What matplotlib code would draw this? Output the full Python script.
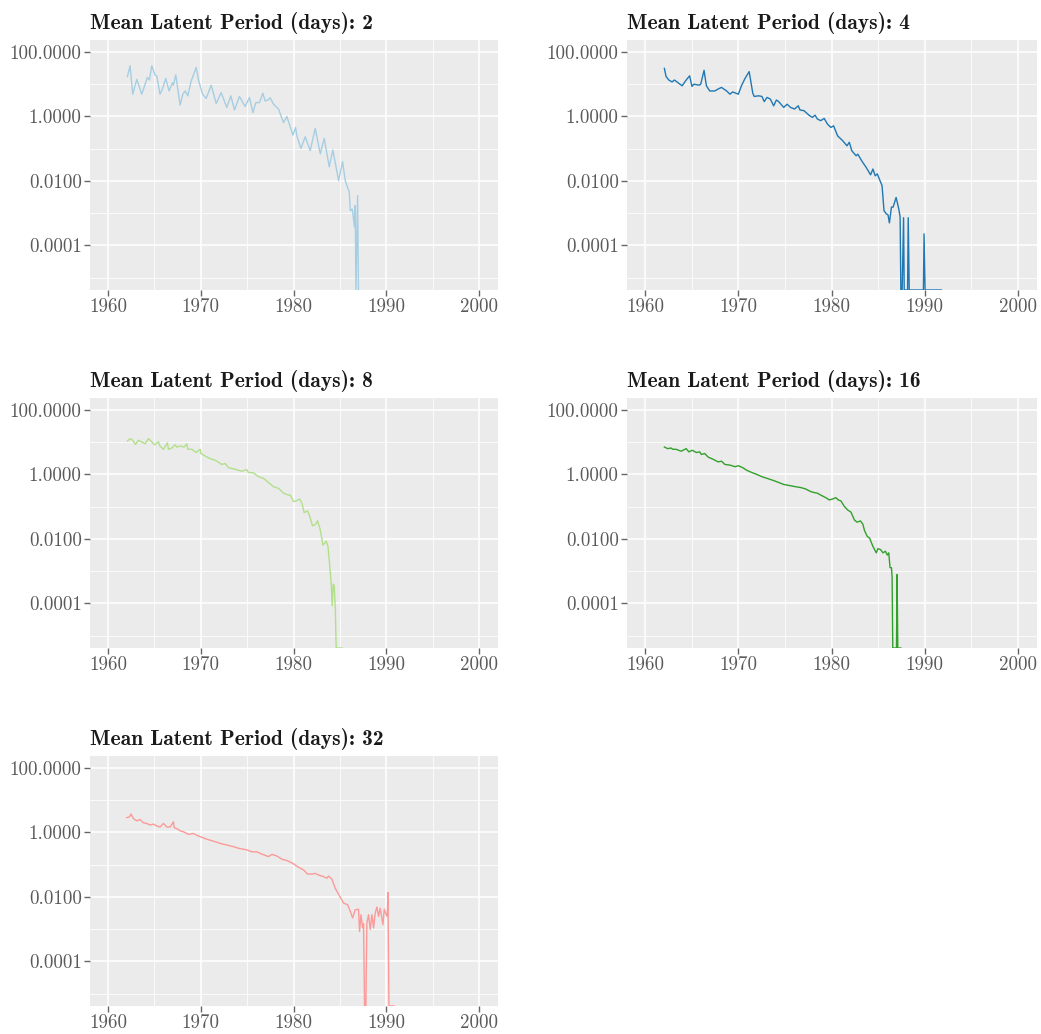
import matplotlib
matplotlib.use("Agg")
import matplotlib.pyplot as plt
import numpy as np
from matplotlib.ticker import FixedLocator, FormatStrFormatter, NullFormatter

# ── Data: year vs log10(value) ────────────────────────────────────────────────
# -5.38 marks points that sit on the lower edge of the plot (zero prevalence)

p2_year = [1962.09, 1962.37, 1962.66, 1963.10, 1963.63, 1964.24, 1964.46, 1964.71,
           1965.07, 1965.25, 1965.60, 1965.86, 1966.22, 1966.58, 1966.94, 1967.05,
           1967.30, 1967.77, 1968.06, 1968.31, 1968.60, 1968.96, 1969.50, 1969.75,
           1970.18, 1970.58, 1971.12, 1971.66, 1972.19, 1972.80, 1973.24, 1973.63,
           1974.17, 1974.78, 1975.25, 1975.61, 1975.94, 1976.33, 1976.69, 1976.94,
           1977.30, 1977.48, 1977.84, 1978.38, 1978.92, 1979.28, 1979.93, 1980.22,
           1980.36, 1980.79, 1981.26, 1981.80, 1982.34, 1982.88, 1983.31, 1983.85,
           1984.24, 1984.86, 1985.29, 1985.58, 1986.01, 1986.12, 1986.33, 1986.58,
           1986.65, 1986.73, 1986.91, 1987.00]
p2_log = [1.24, 1.57, 0.69, 1.15, 0.69, 1.21, 1.13, 1.57,
          1.28, 1.26, 0.69, 0.85, 1.18, 0.79, 1.05, 0.97,
          1.29, 0.35, 0.69, 0.79, 0.64, 1.10, 1.52, 1.13,
          0.69, 0.56, 0.97, 0.40, 0.74, 0.28, 0.64, 0.20,
          0.62, 0.31, 0.59, 0.12, 0.43, 0.43, 0.72, 0.48,
          0.52, 0.58, 0.38, 0.23, -0.19, 0.00, -0.58, -0.34,
          -0.60, -0.99, -0.63, -1.06, -0.37, -1.16, -0.68, -1.56,
          -1.04, -1.99, -1.40, -1.99, -2.35, -2.92, -2.87, -3.43,
          -2.76, -5.38, -2.45, -5.38]

p4_year = [1962.06, 1962.24, 1962.53, 1962.89, 1963.14, 1963.50, 1963.97, 1964.40,
           1964.77, 1965.02, 1965.23, 1965.78, 1965.96, 1966.32, 1966.57, 1966.93,
           1967.47, 1967.83, 1968.19, 1968.74, 1969.10, 1969.39, 1970.00, 1970.36,
           1970.72, 1971.16, 1971.55, 1971.70, 1972.17, 1972.53, 1972.78, 1973.07,
           1973.43, 1973.79, 1974.08, 1974.33, 1974.87, 1975.23, 1975.60, 1976.03,
           1976.43, 1976.61, 1977.04, 1977.58, 1977.94, 1978.23, 1978.48, 1978.84,
           1979.21, 1979.57, 1979.93, 1980.22, 1980.65, 1981.19, 1981.66, 1981.91,
           1982.17, 1982.64, 1982.82, 1983.29, 1983.72, 1984.19, 1984.44, 1984.69,
           1984.91, 1985.20, 1985.42, 1985.63, 1985.88, 1986.06, 1986.21, 1986.43,
           1986.61, 1986.93, 1987.22, 1987.36, 1987.44, 1987.58, 1987.73, 1987.80,
           1988.16, 1988.23, 1988.34, 1989.86, 1989.93, 1990.04, 1991.77]
p4_log = [1.49, 1.24, 1.13, 1.07, 1.13, 1.05, 0.95, 1.13,
          1.26, 0.93, 1.00, 0.97, 1.00, 1.43, 0.95, 0.79,
          0.79, 0.85, 0.90, 0.79, 0.69, 0.76, 0.69, 0.97,
          1.18, 1.39, 0.72, 0.62, 0.64, 0.62, 0.46, 0.59,
          0.54, 0.33, 0.51, 0.46, 0.28, 0.38, 0.28, 0.23,
          0.33, 0.20, 0.18, 0.04, -0.03, 0.04, -0.08, -0.13,
          -0.06, -0.24, -0.34, -0.29, -0.60, -0.75, -0.91, -0.80,
          -1.06, -1.22, -1.17, -1.40, -1.58, -1.81, -1.63, -1.84,
          -1.78, -1.99, -2.14, -2.92, -3.02, -3.05, -3.30, -2.81,
          -2.81, -2.51, -2.87, -3.12, -5.38, -5.38, -3.14, -5.38,
          -5.38, -3.14, -5.38, -5.38, -3.64, -5.38, -5.38]

p8_year = [1962.09, 1962.37, 1962.66, 1962.95, 1963.27, 1963.81, 1963.99, 1964.35,
           1964.71, 1965.00, 1965.43, 1965.60, 1965.97, 1966.40, 1966.51, 1966.87,
           1967.23, 1967.41, 1967.77, 1968.20, 1968.49, 1968.60, 1969.03, 1969.50,
           1969.93, 1970.00, 1970.47, 1971.01, 1971.37, 1971.73, 1972.27, 1972.63,
           1972.99, 1973.71, 1974.42, 1974.96, 1975.14, 1975.68, 1976.22, 1976.76,
           1977.30, 1977.84, 1978.38, 1978.92, 1979.46, 1979.64, 1980.00, 1980.29,
           1980.65, 1980.90, 1981.15, 1981.51, 1981.69, 1982.05, 1982.34, 1982.59,
           1982.88, 1983.17, 1983.53, 1983.71, 1983.89, 1984.07, 1984.17, 1984.28,
           1984.39, 1984.50, 1984.60, 1985.22]
p8_log = [1.04, 1.11, 1.06, 0.93, 1.06, 0.98, 0.95, 1.11,
          1.01, 0.92, 1.01, 0.88, 0.78, 0.98, 0.78, 0.82,
          0.92, 0.85, 0.88, 0.85, 0.95, 0.78, 0.78, 0.68,
          0.78, 0.65, 0.57, 0.49, 0.46, 0.41, 0.31, 0.34,
          0.21, 0.16, 0.10, 0.15, 0.06, 0.05, -0.07, -0.12,
          -0.25, -0.38, -0.43, -0.58, -0.64, -0.64, -0.84, -0.82,
          -0.76, -0.89, -1.18, -1.13, -1.25, -1.59, -1.56, -1.44,
          -1.71, -2.19, -2.07, -2.23, -2.79, -3.40, -4.07, -3.40,
          -3.45, -4.12, -5.38, -5.38]

p16_year = [1962.06, 1962.42, 1962.78, 1962.96, 1963.32, 1963.86, 1964.40, 1964.69,
            1965.05, 1965.49, 1965.85, 1966.03, 1966.39, 1966.75, 1967.29, 1967.83,
            1968.19, 1968.56, 1969.10, 1969.64, 1970.00, 1970.47, 1970.90, 1971.44,
            1971.99, 1972.53, 1973.07, 1973.79, 1974.33, 1974.87, 1975.60, 1976.14,
            1976.75, 1977.22, 1977.76, 1978.12, 1978.48, 1978.84, 1979.39, 1979.75,
            1980.11, 1980.47, 1980.72, 1981.01, 1981.37, 1981.73, 1982.09, 1982.45,
            1982.74, 1983.10, 1983.36, 1983.54, 1983.83, 1984.08, 1984.44, 1984.80,
            1984.98, 1985.27, 1985.52, 1985.78, 1985.99, 1986.14, 1986.28, 1986.43,
            1986.50, 1986.57, 1986.97, 1987.04, 1987.11, 1987.44]
p16_log = [0.85, 0.80, 0.82, 0.78, 0.78, 0.72, 0.80, 0.70,
           0.75, 0.68, 0.70, 0.62, 0.65, 0.54, 0.47, 0.39,
           0.41, 0.31, 0.29, 0.24, 0.27, 0.21, 0.13, 0.06,
           0.00, -0.07, -0.12, -0.19, -0.25, -0.31, -0.35, -0.38,
           -0.41, -0.45, -0.53, -0.56, -0.58, -0.64, -0.72, -0.79,
           -0.76, -0.72, -0.79, -0.82, -0.99, -1.10, -1.17, -1.41,
           -1.48, -1.44, -1.54, -1.74, -1.92, -1.97, -2.23, -2.43,
           -2.30, -2.33, -2.43, -2.38, -2.50, -2.43, -2.89, -2.89,
           -3.18, -5.38, -5.38, -3.10, -5.38, -5.38]

p32_year = [1962.01, 1962.30, 1962.48, 1962.73, 1963.09, 1963.45, 1963.81, 1964.17,
            1964.53, 1964.89, 1965.25, 1965.61, 1965.97, 1966.33, 1966.69, 1967.05,
            1967.12, 1967.41, 1967.77, 1968.13, 1968.67, 1969.21, 1969.50, 1969.93,
            1970.65, 1971.37, 1972.09, 1972.81, 1973.53, 1974.06, 1974.60, 1974.96,
            1975.50, 1976.04, 1976.58, 1977.30, 1977.66, 1978.20, 1978.74, 1979.28,
            1979.93, 1980.54, 1981.08, 1981.51, 1981.98, 1982.34, 1982.70, 1983.24,
            1983.60, 1983.78, 1984.14, 1984.50, 1985.04, 1985.40, 1985.83, 1986.19,
            1986.37, 1986.65, 1987.01, 1987.12, 1987.27, 1987.45, 1987.55, 1987.66,
            1987.80, 1987.91, 1988.09, 1988.27, 1988.45, 1988.63, 1988.81, 1988.99,
            1989.17, 1989.35, 1989.64, 1989.78, 1990.00, 1990.11, 1990.18, 1990.29,
            1990.86]
p32_log = [0.46, 0.48, 0.57, 0.43, 0.36, 0.40, 0.30, 0.28,
           0.23, 0.26, 0.20, 0.17, 0.28, 0.17, 0.17, 0.33,
           0.15, 0.12, 0.05, 0.02, -0.06, -0.03, -0.08, -0.13,
           -0.21, -0.27, -0.34, -0.39, -0.44, -0.49, -0.52, -0.54,
           -0.60, -0.60, -0.67, -0.75, -0.68, -0.73, -0.83, -0.87,
           -0.96, -1.08, -1.16, -1.29, -1.29, -1.27, -1.32, -1.37,
           -1.42, -1.35, -1.45, -1.73, -2.01, -2.19, -2.24, -2.50,
           -2.65, -2.40, -2.38, -3.07, -2.55, -2.96, -2.83, -5.38,
           -5.38, -2.81, -2.55, -3.01, -2.55, -2.96, -2.50, -2.31,
           -2.60, -2.35, -2.86, -2.38, -2.55, -2.60, -1.86, -5.38,
           -5.38]

PERIODS = [2, 4, 8, 16, 32]
YEARS = [p2_year, p4_year, p8_year, p16_year, p32_year]
LOGS = [p2_log, p4_log, p8_log, p16_log, p32_log]
COLORS = ["#a6cee3", "#1f78b4", "#b2df8a", "#33a02c", "#fb9a99"]

W, H = 1041, 1034
# axes boxes in pixels: left, top, right, bottom
BOXES = [
    (90, 40, 498, 290),
    (627, 40, 1037, 290),
    (90, 398, 498, 648),
    (627, 398, 1037, 648),
    (90, 756, 498, 1006),
]

fig = plt.figure(figsize=(W / 100, H / 100), dpi=100)

for period, xs, ls, color, (l, t, r, b) in zip(PERIODS, YEARS, LOGS, COLORS, BOXES):
    ax = fig.add_axes([l / W, (H - b) / H, (r - l) / W, (b - t) / H])
    ax.set_facecolor("#EBEBEB")
    for s in ax.spines.values():
        s.set_visible(False)

    ax.plot(xs, 10.0 ** np.array(ls), color=color, linewidth=1.0, zorder=3)

    ax.set_yscale("log")
    ax.set_ylim(10 ** -5.38, 10 ** 2.37)
    ax.set_xlim(1958.05, 2002.05)

    ax.yaxis.set_major_locator(FixedLocator([1e-4, 1e-2, 1, 1e2]))
    ax.yaxis.set_minor_locator(FixedLocator([1e-5, 1e-3, 1e-1, 1e1]))
    ax.yaxis.set_major_formatter(FormatStrFormatter("%.4f"))
    ax.yaxis.set_minor_formatter(NullFormatter())
    ax.xaxis.set_major_locator(FixedLocator([1960, 1970, 1980, 1990, 2000]))
    ax.xaxis.set_minor_locator(FixedLocator([1965, 1975, 1985, 1995]))
    ax.xaxis.set_major_formatter(FormatStrFormatter("%d"))

    ax.grid(True, which="major", color="white", linewidth=1.1, zorder=0)
    ax.grid(True, which="minor", color="white", linewidth=0.55, zorder=0)
    ax.set_axisbelow(True)
    ax.tick_params(which="major", length=4, width=1, color="#666666",
                   labelcolor="#5a5a5a", labelsize=13.6, pad=2)
    ax.tick_params(which="minor", length=0)
    for lab in ax.get_xticklabels() + ax.get_yticklabels():
        lab.set_family("cmr10")

    ax.set_title(f"Mean Latent Period (days): {period}", loc="left",
                 fontfamily="cmb10", fontsize=15.5, color="#1a1a1a", pad=8)

fig.savefig("out.png", dpi=100)
